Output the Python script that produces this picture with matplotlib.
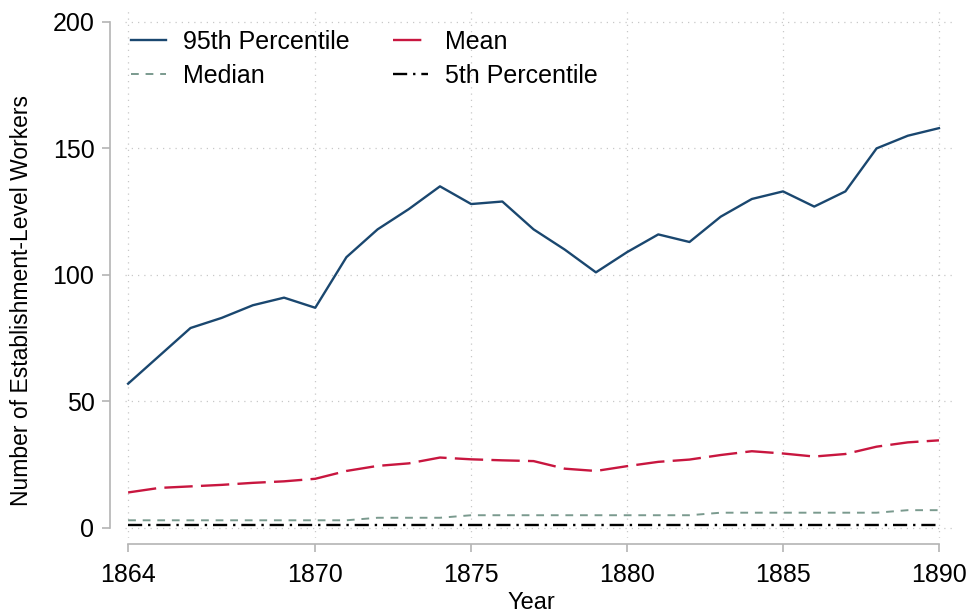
import matplotlib.pyplot as plt

plt.rcParams['font.family'] = ['Liberation Sans', 'DejaVu Sans']

years = list(range(1864, 1891))
p95 = [57, 68, 79, 83, 88, 91, 87, 107, 118, 126, 135, 128, 129, 118, 110, 101,
       109, 116, 113, 123, 130, 133, 127, 133, 150, 155, 158]
mean = [14.0, 15.8, 16.4, 17.0, 17.8, 18.4, 19.4, 22.5, 24.5, 25.5, 27.8, 27.1,
        26.7, 26.4, 23.4, 22.5, 24.4, 26.1, 27.0, 28.8, 30.3, 29.4, 28.2, 29.2,
        32.1, 33.8, 34.6]
median = [3, 3, 3, 3, 3, 3, 3, 3, 4, 4, 4, 5, 5, 5, 5, 5, 5, 5, 5, 6, 6, 6, 6, 6,
          6, 7, 7]
p5 = [1] * len(years)

xticks = [1864, 1870, 1875, 1880, 1885, 1890]
yticks = [0, 50, 100, 150, 200]

fig = plt.figure(figsize=(9.7, 6.14), dpi=100)
ax = fig.add_axes([125 / 970, 1 - 538 / 614, (953 - 125) / 970, (538 - 10) / 614])

ax.plot(years, p95, color='#1a476f', lw=1.7, label='95th Percentile')
ax.plot(years, mean, color='#c8163f', lw=1.7, dashes=(12, 3.5), label='Mean')
ax.plot(years, median, color='#7a9a8e', lw=1.4, dashes=(4, 3.5), label='Median')
ax.plot(years, p5, color='black', lw=1.7, dashes=(6, 2.5, 1, 2.5), label='5th Percentile')

ax.set_xlim(1863.9, 1890.45)
ax.set_ylim(-4, 204.7)
ax.set_xticks(xticks)
ax.set_yticks(yticks)

ax.grid(True, color='#c8c8c8', lw=0.9, linestyle=(0, (1, 4)))
ax.set_axisbelow(True)

for s in ['top', 'right']:
    ax.spines[s].set_visible(False)
ax.spines['left'].set_position(('outward', 11))
ax.spines['bottom'].set_position(('outward', 4))
ax.spines['left'].set_bounds(0, 200)
ax.spines['bottom'].set_bounds(1864, 1890)
for s in ['left', 'bottom']:
    ax.spines[s].set_color('#b4b4b4')
    ax.spines[s].set_linewidth(1.2)
ax.tick_params(axis='both', colors='#b4b4b4', length=6, width=1.2,
               labelsize=18, labelcolor='black')
ax.tick_params(axis='x', pad=8)
ax.tick_params(axis='y', pad=5)

# axis titles placed like the Stata original
fig.text(531 / 970, 1 - 603 / 614, 'Year', fontsize=17, ha='center', va='center')
fig.text(22 / 970, 1 - 300 / 614, 'Number of Establishment-Level Workers',
         fontsize=16.5, rotation=90, ha='center', va='center')

handles, labels = ax.get_legend_handles_labels()
order = [0, 2, 1, 3]
ax.legend([handles[i] for i in order], [labels[i] for i in order],
          loc='upper left', ncol=2, frameon=False, fontsize=18,
          bbox_to_anchor=(-0.02, 1.005), handlelength=1.4, handletextpad=0.7,
          columnspacing=1.7, labelspacing=0.4)

fig.savefig('out.png', dpi=100)
